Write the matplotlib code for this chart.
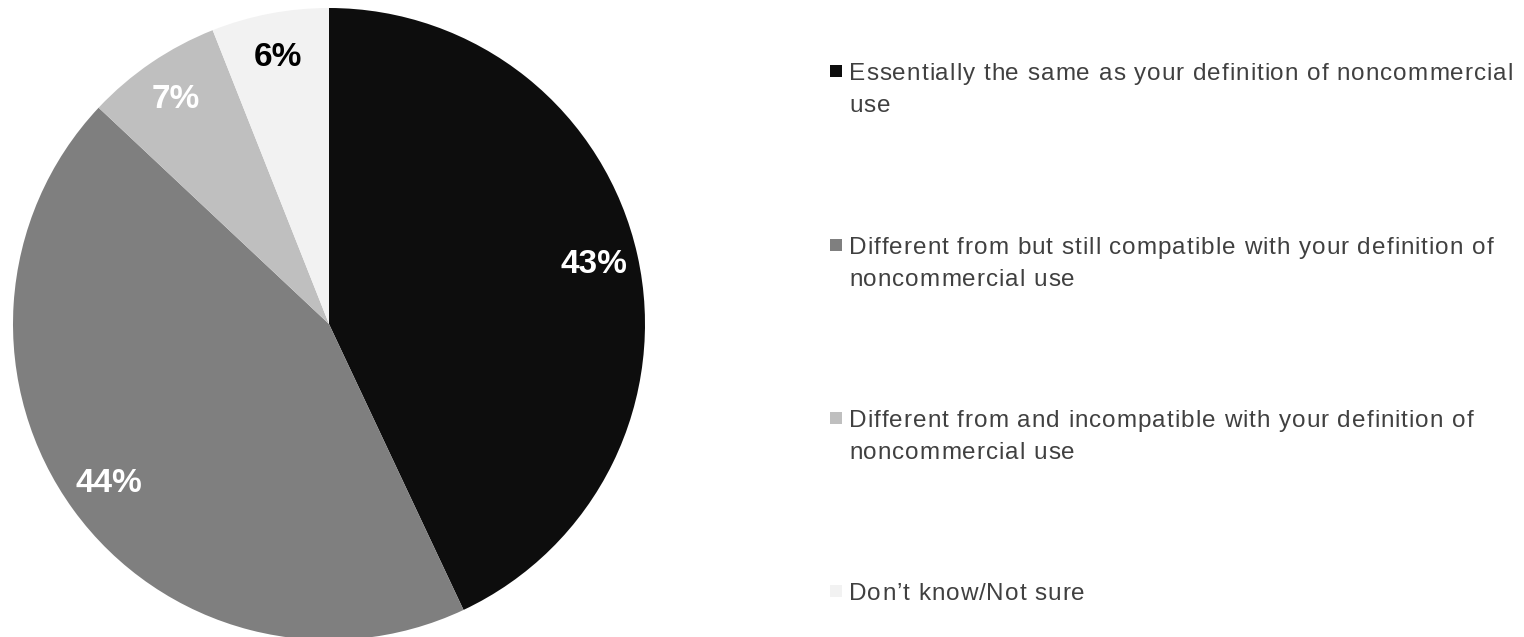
import matplotlib
matplotlib.use("Agg")
import matplotlib.pyplot as plt
from matplotlib.patches import Rectangle
from matplotlib.transforms import IdentityTransform
from matplotlib.font_manager import FontProperties, findfont, get_font

# Data
legend_lines = [
    ["Essentially the same as your definition of noncommercial", "use"],
    ["Different from but still compatible with your definition of", "noncommercial use"],
    ["Different from and incompatible with your definition of", "noncommercial use"],
    ["Don\u2019t know/Not sure"],
]
shares = [43, 44, 7, 6]
colors = ["#0d0d0d", "#7f7f7f", "#bfbfbf", "#f2f2f2"]
pct_colors = ["white", "white", "white", "black"]

W, H = 1524, 637
fig = plt.figure(figsize=(W / 100, H / 100), dpi=100)

# pie placed by pixel centre / radius
cx, cy, r = 329, 324, 316
ax = fig.add_axes([(cx - r) / W, (H - cy - r) / H, 2 * r / W, 2 * r / H])
wedges, _, autotexts = ax.pie(
    shares, colors=colors, startangle=90, counterclock=False,
    autopct=lambda p: f"{p:.0f}%", pctdistance=0.86,
    wedgeprops=dict(linewidth=0),
)
for t, c in zip(autotexts, pct_colors):
    t.set_color(c)
    t.set_fontsize(24)
    t.set_fontweight("bold")
    t.set_family("Liberation Sans")
ax.set_xlim(-1, 1)
ax.set_ylim(-1, 1)
ax.set_aspect("equal")
ax.axis("off")

# legend with letter spacing, drawn char by char in pixel coords
fsize = 17.5
prop = FontProperties(family="Liberation Sans", size=fsize)
font = get_font(findfont(prop))
font.set_size(fsize, 100)


def advance(ch):
    g = font.load_char(ord(ch))
    return g.linearHoriAdvance / 65536.0


def natural_width(s):
    return sum(advance(ch) for ch in s)


text_x = 849
# spacing so the first line spans text_x -> 1513 px
first = legend_lines[0][0]
spacing = max(0.0, (1513 - text_x - natural_width(first)) / (len(first) - 1))


def spaced_text(x, y, s):
    for ch in s:
        if ch != " ":
            fig.text(x, H - y, ch, transform=IdentityTransform(), fontproperties=prop,
                     color="#404040", ha="left", va="baseline")
        x += advance(ch) + spacing


centers = [71, 245, 418, 591]
line_gap = 32
sq = 12
for lines, c, col in zip(legend_lines, centers, colors):
    fig.patches.append(Rectangle((830, H - c - sq / 2), sq, sq, transform=IdentityTransform(),
                                 facecolor=col, edgecolor="none"))
    for i, line in enumerate(lines):
        spaced_text(text_x, c + 9 + i * line_gap, line)

fig.savefig("out.png", dpi=100)
